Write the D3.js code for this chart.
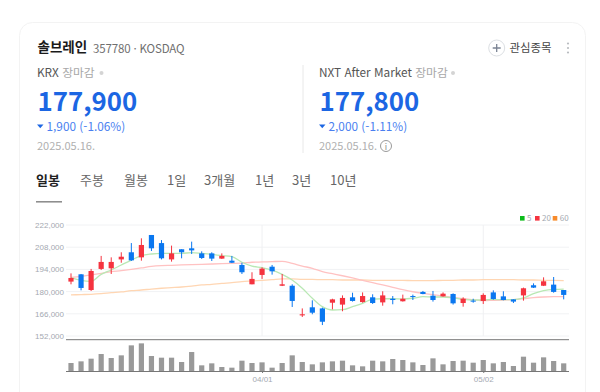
<!DOCTYPE html>
<html lang="ko">
<head>
<meta charset="utf-8">
<script src="https://cdn.jsdelivr.net/npm/d3@7"></script>
<style>
  html, body { margin: 0; padding: 0; background: #fff; }
  svg { display: block; font-family: "Noto Sans CJK KR", "Noto Sans", sans-serif; }
</style>
</head>
<body>
<div id="chart"></div>
<script>
const dates = ["03/05","03/06","03/07","03/10","03/11","03/12","03/13","03/14","03/17","03/18",
  "03/19","03/20","03/21","03/24","03/25","03/26","03/27","03/28","03/31","04/01",
  "04/02","04/03","04/04","04/07","04/08","04/09","04/10","04/11","04/14","04/15",
  "04/16","04/17","04/18","04/21","04/22","04/23","04/24","04/25","04/28","04/29",
  "04/30","05/02","05/07","05/08","05/09","05/12","05/13","05/14","05/15","05/16"];

const opens = [186300,190900,181000,194300,194700,200300,204800,201600,215700,210600,
  200300,206700,207300,204100,204100,200800,199500,196800,184600,190500,
  195700,183700,183700,165000,170100,169400,173000,171800,176400,173400,
  176400,173200,175500,173900,177200,179800,177400,177000,178500,172800,
  174300,174100,179500,177000,175100,177600,184000,183700,184400,181000];
const closes = [188600,182300,193000,198700,198700,202000,199700,209400,207300,201000,
  204100,204800,206000,201200,200800,202500,198200,192200,188000,194500,
  192800,184600,174100,165700,166700,161000,175100,176000,174100,177200,
  172800,177600,174700,175500,176600,178500,174700,178700,172600,175500,
  173700,177900,175300,174700,173700,182100,182500,186500,179800,177900];
const highs = [191500,191100,194300,202500,201600,204800,210600,213600,215700,212500,
  209000,206700,211500,205400,204800,204100,202500,198200,192200,195300,
  196800,191100,184600,169400,174500,169900,175500,177600,179300,179500,
  178300,180200,177200,178100,178100,180400,180400,179500,178900,176400,
  175500,178900,180800,180200,175100,182500,185200,189000,189200,181000];
const lows = [184600,180800,180400,193600,191100,198200,199300,199500,205600,200300,
  198900,201000,203700,200600,199300,200600,198000,191100,184600,188000,
  190700,183500,170300,164000,165700,158900,168800,167600,173700,173000,
  172200,171100,172000,173700,174700,178300,173700,176800,171800,170500,
  173000,172200,174900,174500,172800,174300,182300,183500,179300,175100];

const ma5 = [188800,187100,186500,190900,193600,196800,199900,202700,203700,204100,
  204100,204100,204600,204100,203500,202700,202000,198500,196100,195100,
  193600,190900,187300,182100,175800,170500,168400,168600,170500,172600,
  175300,175500,175500,175300,175800,176800,176600,176600,176000,175100,
  174700,174700,175100,174900,174900,176000,178700,180600,181400,181600];
const ma20 = [189000,189600,190500,191500,192600,193200,194000,194900,195900,196400,
  196600,196800,197000,197200,197400,197600,197800,198000,198500,198700,
  198900,199100,197800,196100,194700,192600,191300,190000,188600,187100,
  185600,184200,182700,181200,179900,178900,178100,177200,176400,175500,
  174900,174300,174500,174700,174900,175500,176200,176600,176800,176800];
const ma60 = [177900,178100,178300,178700,179300,179800,180600,181000,181600,182100,
  182500,182900,183500,184200,184600,185200,185600,186300,186700,187100,
  187500,188000,188000,187700,187700,187500,187500,187300,187300,187300,
  187100,187100,187100,187100,186900,186900,186900,187100,187100,187300,
  187300,187500,187500,187500,187500,187300,187300,187100,187100,186900];
const volumes = [24,29,37,51,39,47,77,83,45,40,40,27,57,17,23,12,10,31,24,26,
  10,24,47,27,20,26,29,31,17,14,31,29,36,33,26,18,38,20,30,31,
  25,33,23,27,15,43,25,41,30,23];

const priceTicks = [152000,166000,180000,194000,208000,222000];
const dateTicks = ["04/01","05/02"];
const tabs = ["일봉","주봉","월봉","1일","3개월","1년","3년","10년"];
const tabX = [36,80,124,167,204,255,292,330];
const legendNames = ["5","20","60"];
const legendColors = ["#0cbb1a","#f5333f","#f78b2b"];
const lineColors = ["#b9e8b4","#ffc2c2","#ffd6b3"];

const red = "#f5333f", blue = "#0a77f0";

const svg = d3.select("#chart").append("svg").attr("width", 600).attr("height", 392);

function label(x, y, txt, size, fill, weight) {
  return svg.append("text").attr("x", x).attr("y", y).text(txt)
    .style("font-size", size + "px").style("fill", fill).style("font-weight", weight || 400);
}

// card
svg.append("rect").attr("x", 19.5).attr("y", 22.5).attr("width", 566).attr("height", 420)
  .attr("rx", 13).attr("fill", "#fff").attr("stroke", "#f3f3f3");

// header
label(37.5, 52, "솔브레인", 13.5, "#1a1a1a", 700);
label(93, 53, "357780 · KOSDAQ", 11.5, "#6f6f6f").style("letter-spacing", "-0.15px");

svg.append("circle").attr("cx", 496.7).attr("cy", 48).attr("r", 8).attr("fill", "#fff").attr("stroke", "#dcdfe3");
svg.append("path").attr("d", "M492.7,48h8M496.7,44v8").attr("stroke", "#7b8494").attr("stroke-width", 1.3);
label(509.5, 52, "관심종목", 11.4, "#444");
svg.selectAll(".dot").data([43.5, 48, 52.5]).enter().append("circle")
  .attr("cx", 568).attr("cy", d => d).attr("r", 1.1).attr("fill", "#b9bcc0");

// price blocks
function priceBlock(x, market, price, change, date, dotX) {
  const m = label(x, 77, market, 11.8, "#555");
  m.append("tspan").text(" 장마감").style("fill", "#a8a8a8");
  svg.append("circle").attr("cx", dotX).attr("cy", 73).attr("r", 2).attr("fill", "#d4d4d4");
  label(x + 0.5, 111, price, 25.8, "#1c66e3", 700);
  svg.append("path").attr("d", `M${x},124.5 h6.5 l-3.25,3.8 z`).attr("fill", "#1c66e3");
  label(x + 9.5, 131, change, 11.8, "#4a7ff0");
  label(x, 150, date, 11, "#b0b0b0");
}
priceBlock(37, "KRX", "177,900", "1,900  (-1.06%)", "2025.05.16.", 101.5);
priceBlock(319, "NXT After Market", "177,800", "2,000  (-1.11%)", "2025.05.16.", 453);
svg.append("circle").attr("cx", 386).attr("cy", 146).attr("r", 5.5).attr("fill", "none").attr("stroke", "#9a9a9a");
label(386, 149.5, "i", 8.5, "#8a8a8a").attr("text-anchor", "middle");
svg.append("line").attr("x1", 303).attr("x2", 303).attr("y1", 65).attr("y2", 153).attr("stroke", "#e8e8e8");

// period tabs
tabs.forEach((t, i) => label(tabX[i], 185, t, 13, i ? "#666" : "#222", i ? 400 : 700));
svg.append("line").attr("x1", 36).attr("x2", 62).attr("y1", 201.8).attr("y2", 201.8).attr("stroke", "#888").attr("stroke-width", 1.5);

// scales
const x = d3.scalePoint().domain(dates).range([71, 563.7]);
const y = d3.scaleLinear().domain([152000, 222000]).range([336, 225]);
const v = d3.scaleLinear().domain([0, 100]).range([371, 337.7]);

// price axis and grid
const gy = svg.append("g").attr("transform", "translate(66,0)")
  .call(d3.axisLeft(y).tickValues(priceTicks).tickFormat(d3.format(",")).tickSize(0).tickPadding(2));
gy.select(".domain").remove();
gy.selectAll("text").style("font-size", "8px").style("fill", "#a4a9b1").style("font-family", "inherit");

svg.append("g").selectAll("line").data(priceTicks).enter().append("line")
  .attr("x1", 66).attr("x2", 569).attr("y1", d => y(d)).attr("y2", d => y(d)).attr("stroke", "#f1f2f4");
svg.append("g").selectAll("line").data(dateTicks).enter().append("line")
  .attr("x1", d => x(d)).attr("x2", d => x(d)).attr("y1", 225).attr("y2", 336).attr("stroke", "#eff0f2");

// moving averages
const maLine = d3.line().x((d, i) => x(dates[i])).y(d => y(d)).curve(d3.curveMonotoneX);
[ma60, ma20, ma5].forEach((s, i) => {
  svg.append("path").attr("d", maLine(s)).attr("fill", "none")
    .attr("stroke", lineColors[2 - i]).attr("stroke-width", 1.3);
});

// candles
const candle = svg.append("g").selectAll("g").data(dates).enter().append("g");
candle.append("line")
  .attr("x1", d => x(d)).attr("x2", d => x(d))
  .attr("y1", (d, i) => y(highs[i])).attr("y2", (d, i) => y(lows[i]))
  .attr("stroke", (d, i) => closes[i] >= opens[i] ? red : blue);
candle.append("rect")
  .attr("x", d => x(d) - 2.6).attr("width", 5.2)
  .attr("y", (d, i) => y(Math.max(opens[i], closes[i])))
  .attr("height", (d, i) => Math.max(1, Math.abs(y(opens[i]) - y(closes[i]))))
  .attr("fill", (d, i) => closes[i] >= opens[i] ? red : blue);

// volume
svg.append("g").selectAll("rect").data(volumes).enter().append("rect")
  .attr("x", (d, i) => x(dates[i]) - 2.6).attr("width", 5.2)
  .attr("y", d => v(d)).attr("height", d => v(0) - v(d)).attr("fill", "#999");

svg.append("line").attr("x1", 66).attr("x2", 569).attr("y1", 339.7).attr("y2", 339.7).attr("stroke", "#777");
const gx = svg.append("g").attr("transform", "translate(0,371)")
  .call(d3.axisBottom(x).tickValues(dateTicks).tickSize(2).tickPadding(3));
gx.select(".domain").attr("d", "M66,0.5H569").attr("stroke", "#777");
gx.selectAll("line").attr("stroke", "#777");
gx.selectAll("text").style("font-size", "8px").style("fill", "#a4a9b1").style("font-family", "inherit");

// legend
const legendX = [520, 535, 552.7];
legendNames.forEach((n, i) => {
  svg.append("rect").attr("x", legendX[i]).attr("y", 216).attr("width", 4.6).attr("height", 4.6).attr("fill", legendColors[i]);
  label(legendX[i] + 7, 221.3, n, 8, "#a4a9b1");
});
</script>
</body>
</html>
